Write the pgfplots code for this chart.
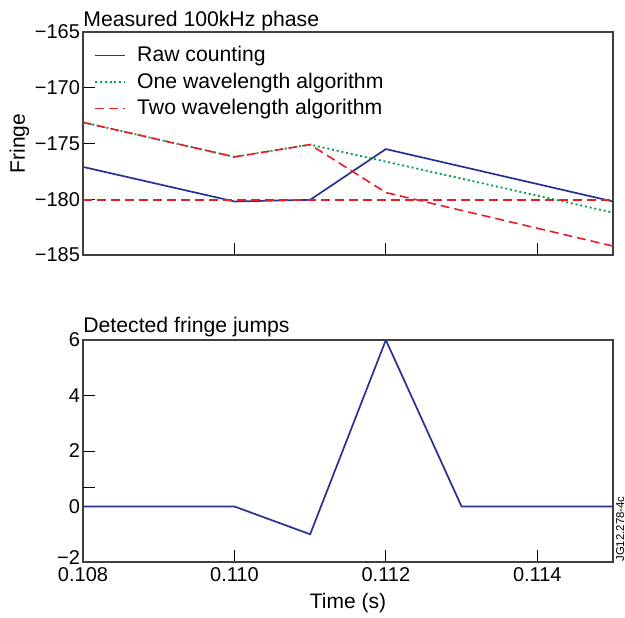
\documentclass[border=0pt]{standalone}
\usepackage{pgfplots}
\pgfplotsset{compat=1.18}
\usepackage{fontspec}
\setmainfont{Liberation Sans}
\definecolor{rawblue}{RGB}{40,48,145}
\definecolor{onegreen}{RGB}{0,160,80}
\definecolor{twored}{RGB}{236,28,36}
\pgfplotsset{
  every axis title shift=0pt,
  myax/.style={
    scale only axis, width=265pt,
    xmin=0.108, xmax=0.115,
    xtick={0.108,0.110,0.112,0.114},
    tick pos=left, tick align=inside, major tick length=6pt,
    axis line style={black!75, line width=0.6pt},
    tick style={black, line width=0.5pt},
    tick label style={font=\fontsize{10}{12}\selectfont},
    label style={font=\fontsize{10.5}{12}\selectfont},
    yticklabel style={xshift=2pt},
    xticklabel style={yshift=1pt},
  },
}
\begin{document}
\begin{tikzpicture}
\useasboundingbox (-41.5pt,-27.5pt) rectangle (271pt,281pt);
\begin{axis}[myax, at={(0pt,153.5pt)}, anchor=south west, height=111.5pt,
  ymin=-185, ymax=-165,
  ytick={-185,-180,-175,-170,-165},
  yticklabels={−185,−180,−175,−170,−165},
  xticklabels={},
  ylabel={Fringe},
  ylabel style={at={(rel axis cs:0,0.5)}, anchor=base, yshift=29pt},
  title={Measured 100kHz phase},
  title style={at={(rel axis cs:0,1)}, anchor=base west, inner sep=0pt, yshift=3pt, font=\fontsize{10.6}{12}\selectfont},
  legend style={draw=none, fill=none, at={(rel axis cs:0,1)}, anchor=north west, xshift=2.5pt, yshift=-3pt,
    font=\fontsize{10.6}{12.3}\selectfont, legend cell align=left,
    /tikz/every odd column/.append style={column sep=3.5pt}},
  legend image code/.code={\draw[#1] (0pt,0pt) -- (15pt,0pt);},
]
\addplot[rawblue, line width=0.85pt] coordinates {(0.108,-177.1) (0.110,-180.2) (0.111,-180.05) (0.112,-175.5) (0.115,-180.2)};
\addplot[onegreen, line width=0.9pt, dash pattern=on 1pt off 1.4pt] coordinates {(0.108,-173.1) (0.110,-176.2) (0.111,-175.1) (0.115,-181.2)};
\addplot[twored, line width=0.8pt, dash pattern=on 4.5pt off 2.5pt] coordinates {(0.108,-173.1) (0.110,-176.2) (0.111,-175.1) (0.112,-179.4) (0.115,-184.2)};
\addplot[twored, line width=0.8pt, dash pattern=on 4.5pt off 2.5pt, forget plot] coordinates {(0.108,-180.05) (0.115,-180.05)};
\legend{Raw counting, One wavelength algorithm, Two wavelength algorithm}
\end{axis}
\begin{axis}[myax, at={(0pt,0pt)}, anchor=south west, height=111pt,
  ymin=-2, ymax=6,
  ytick={-2,0,2,4,6},
  yticklabels={\raisebox{2.2pt}[\height][\depth]{−2},0,2,4,6},
  extra y ticks={0.7}, extra y tick labels={},
  xticklabels={0.108,0.110,0.112,0.114},
  xlabel={Time (s)},
  xlabel style={at={(rel axis cs:0.5,0)}, anchor=base, yshift=-23pt},
  title={Detected fringe jumps},
  title style={at={(rel axis cs:0,1)}, anchor=base west, inner sep=0pt, yshift=4pt, font=\fontsize{10.6}{12}\selectfont},
]
\addplot[rawblue, line width=0.85pt] coordinates {(0.108,0) (0.110,0) (0.111,-1) (0.112,6) (0.113,0) (0.115,0)};
\end{axis}
\node[rotate=90, anchor=base west, inner sep=0pt, font=\fontsize{5.7}{7}\selectfont] at (270.5pt,0pt) {JG12.278-4c};
\end{tikzpicture}
\end{document}
